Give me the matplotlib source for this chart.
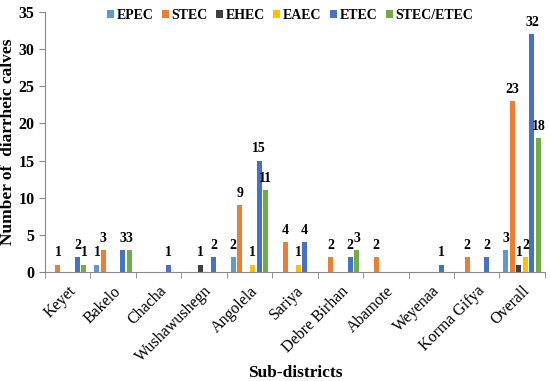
import matplotlib
matplotlib.use("Agg")
import matplotlib.pyplot as plt
import numpy as np

categories = ["Keyet", "Bakelo", "Chacha", "Wushawushegn", "Angolela", "Sariya",
              "Debre Birhan", "Abamote", "Weyenaa", "Korma Gifya", "Overall"]
series_names = ["EPEC", "STEC", "EHEC", "EAEC", "ETEC", "STEC/ETEC"]
EPEC = [0, 1, 0, 0, 2, 0, 0, 0, 0, 0, 3]
STEC = [1, 3, 0, 0, 9, 4, 2, 2, 0, 2, 23]
EHEC = [0, 0, 0, 1, 0, 0, 0, 0, 0, 0, 1]
EAEC = [0, 0, 0, 0, 1, 1, 0, 0, 0, 0, 2]
ETEC = [2, 3, 1, 2, 15, 4, 2, 0, 1, 2, 32]
STEC_ETEC = [1, 3, 0, 0, 11, 0, 3, 0, 0, 0, 18]
colors = ["#5B9BD5", "#ED7D31", "#404040", "#FFC000", "#4472C4", "#70AD47"]

values = [EPEC, STEC, EHEC, EAEC, ETEC, STEC_ETEC]

plt.rcParams['font.family'] = ['Liberation Serif', 'DejaVu Serif']
fig = plt.figure(figsize=(5.5, 3.81), dpi=100)
ax = fig.add_axes([0.0818, 0.286, 0.909, 0.683])

x = np.arange(len(categories))
step = 0.143
bw = 0.11
for i, (name, vals, c) in enumerate(zip(series_names, values, colors)):
    pos = x + (i - 2.5) * step
    ax.bar(pos, vals, width=bw, color=c, label=name)
    for p, v in zip(pos, vals):
        if v > 0:
            ax.text(p, v + 0.7, str(v), ha='center', va='bottom', fontsize=10,
                    fontweight='bold')

ax.set_xlim(-0.5, len(categories) - 0.5)
ax.set_ylim(0, 35)
ax.set_yticks(range(0, 36, 5))
ax.set_xticks(x)
ax.set_xticklabels(categories, rotation=45, ha='right', rotation_mode='anchor', fontsize=11.5)
ax.tick_params(axis='x', length=0, pad=8)
ax.set_xticks(np.arange(-0.5, len(categories), 1), minor=True)
ax.tick_params(axis='x', which='minor', length=4, color='#888888')
ax.tick_params(axis='y', length=4, color='#888888', labelsize=11.5)
for lab in ax.get_yticklabels():
    lab.set_fontweight('bold')
for s in ['top', 'right']:
    ax.spines[s].set_visible(False)
for s in ['left', 'bottom']:
    ax.spines[s].set_color('#888888')

ax.set_ylabel("Number of  diarrheic calves", fontsize=12.5, fontweight='bold', labelpad=2)
ax.set_xlabel("Sub-districts", fontsize=12.5, fontweight='bold', labelpad=0)

leg = ax.legend(loc='center', bbox_to_anchor=(0.49, 0.985), ncol=6, frameon=False,
                fontsize=10, handlelength=0.5, handleheight=0.5, handletextpad=0.2,
                columnspacing=0.6, borderpad=0)
for t in leg.get_texts():
    t.set_fontweight('bold')

fig.savefig("out.png", dpi=100)
